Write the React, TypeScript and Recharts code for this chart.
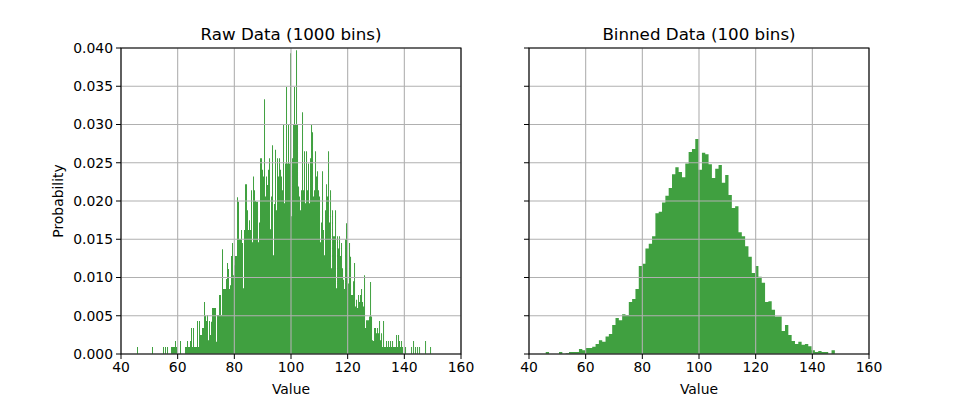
import { ComposedChart, Area, XAxis, YAxis, CartesianGrid, ReferenceArea } from 'recharts';

// 원본 데이터: 1000개 구간 중 3개씩 묶은 값 (구간 폭 약 0.118)
const RAW_START = 45.647;
const RAW_GROUP_W = 0.353;
const RAW_PROB = [
  0.0009, 0, 0, 0, 0, 0, 0, 0, 0, 0, 0, 0, 0, 0, 0, 0.0009, 0, 0, 0, 0,
  0, 0, 0, 0, 0, 0, 0.0009, 0, 0.0009, 0, 0.0009, 0, 0, 0, 0.0009, 0.0009, 0.0009, 0.0009, 0.0017, 0.0009,
  0, 0, 0, 0.0017, 0, 0, 0, 0, 0.0009, 0.0009, 0.0017, 0.0009, 0.0009, 0.0017, 0.0034, 0.0009, 0.0034, 0.0009, 0.0009, 0.0009,
  0.0043, 0.0009, 0.0043, 0.0025, 0.0025, 0.0034, 0.0034, 0.0068, 0.005, 0.0043, 0.0051, 0.0018, 0.0043, 0.0025, 0.0042, 0.006, 0.006, 0.006, 0.006, 0.0016,
  0.0051, 0.0051, 0.0077, 0.0077, 0.0051, 0.0137, 0.0085, 0.0085, 0.0085, 0.0098, 0.0119, 0.0111, 0.0085, 0.009, 0.0128, 0.0145, 0.0103, 0.0116, 0.0128, 0.0128,
  0.0205, 0.0199, 0.015, 0.015, 0.0162, 0.0145, 0.0086, 0.0162, 0.0222, 0.0222, 0.0188, 0.0162, 0.0175, 0.0162, 0.0214, 0.0146, 0.0232, 0.0214, 0.02, 0.0199,
  0.0199, 0.0146, 0.0172, 0.0256, 0.0256, 0.0241, 0.0232, 0.0333, 0.0206, 0.0232, 0.0221, 0.0241, 0.0256, 0.0163, 0.0206, 0.0273, 0.0129, 0.0196, 0.0267, 0.0188,
  0.0256, 0.0232, 0.0256, 0.0241, 0.0232, 0.0214, 0.03, 0.0197, 0.0249, 0.0349, 0.0249, 0.03, 0.0249, 0.0393, 0.018, 0.0256, 0.03, 0.0349, 0.03, 0.0397,
  0.03, 0.0219, 0.0206, 0.0188, 0.0214, 0.0316, 0.0214, 0.0265, 0.0197, 0.0265, 0.0214, 0.0249, 0.0197, 0.0256, 0.03, 0.029, 0.0206, 0.0214, 0.0265, 0.0232,
  0.0239, 0.0214, 0.0206, 0.0146, 0.0172, 0.0239, 0.0162, 0.0129, 0.0188, 0.0222, 0.0206, 0.0265, 0.0172, 0.0214, 0.0112, 0.0188, 0.0154, 0.0154, 0.0188, 0.0086,
  0.0154, 0.0138, 0.0154, 0.0128, 0.0145, 0.0112, 0.0097, 0.0085, 0.015, 0.0171, 0.0099, 0.0092, 0.0145, 0.0127, 0.0077, 0.0077, 0.0095, 0.0119, 0.0062, 0.0071,
  0.006, 0.0077, 0.0068, 0.0077, 0.0085, 0.0068, 0.0062, 0.0103, 0.0034, 0.0044, 0.0044, 0.0044, 0.0049, 0.0094, 0.0049, 0.0018, 0.0017, 0.0034, 0.0034, 0.0027,
  0.0034, 0.0027, 0.0043, 0.0018, 0.0027, 0.0009, 0.0043, 0.0009, 0.0009, 0.0017, 0.0009, 0.0017, 0.0009, 0.0017, 0.0009, 0.0017, 0.0009, 0.0009, 0.0009, 0.0025,
  0.0009, 0.0025, 0.0017, 0.0009, 0.0017, 0.0009, 0, 0, 0.0009, 0, 0, 0, 0, 0, 0.0009, 0, 0.0017, 0, 0.0009, 0,
  0.0009, 0, 0.0009, 0, 0, 0, 0, 0, 0.0017, 0, 0, 0, 0, 0.0009, 0,
];

// 100개 구간 데이터
const BIN_START = 45.9;
const BIN_W = 1.173;
const BINNED_PROB = [
  0.00026, 0, 0, 0, 0.00026, 0, 0.0001, 0.00026, 0.00026, 0.00026,
  0.00065, 0.0005, 0.0008, 0.0008, 0.00096, 0.0013, 0.0018, 0.0016, 0.0023, 0.0026,
  0.0038, 0.0047, 0.0044, 0.0052, 0.0051, 0.0068, 0.0072, 0.0085, 0.0115, 0.0118,
  0.0138, 0.0144, 0.0154, 0.0184, 0.0186, 0.0198, 0.0207, 0.0217, 0.0235, 0.0244,
  0.0238, 0.0231, 0.0249, 0.0264, 0.0268, 0.0281, 0.0241, 0.0263, 0.0261, 0.0248,
  0.023, 0.0242, 0.0247, 0.0224, 0.0234, 0.0208, 0.0191, 0.0193, 0.0159, 0.0154,
  0.0141, 0.0127, 0.0106, 0.0115, 0.0101, 0.0093, 0.0068, 0.0069, 0.0058, 0.0049,
  0.0049, 0.003, 0.0038, 0.0025, 0.0017, 0.0013, 0.0016, 0.0012, 0.0013, 0.001,
  0.0005, 0.00026, 0.0004, 0.00026, 0.00026, 0, 0.0005, 0, 0, 0,
  0, 0, 0, 0, 0, 0, 0, 0, 0, 0.0001,
];

const X_TICKS = [40, 60, 80, 100, 120, 140, 160];
const Y_TICKS = [0, 0.005, 0.01, 0.015, 0.02, 0.025, 0.03, 0.035, 0.04];

const FONT = 'DejaVu Sans';
const TICK_STYLE = { fill: '#000', fontSize: 13.9, fontFamily: FONT };

function toSteps(values: number[], start: number, width: number) {
  const pts = values.map((p, i) => ({ x: start + i * width, p }));
  pts.push({ x: start + values.length * width, p: 0 });
  return pts;
}

const rawData = toSteps(RAW_PROB, RAW_START, RAW_GROUP_W);
const binnedData = toSteps(BINNED_PROB, BIN_START, BIN_W);

function HistPanel({ data, title, left, showYLabels }: { data: { x: number; p: number }[]; title: string; left: number; showYLabels: boolean }) {
  return (
    <div style={{ position: 'absolute', left, top: 0, width: 490, height: 398 }}>
      <div
        style={{
          position: 'absolute',
          left: 121,
          width: 340,
          top: 24,
          textAlign: 'center',
          fontFamily: FONT,
          fontSize: 16.7,
          lineHeight: '20px',
          color: '#000',
        }}
      >
        {title}
      </div>
      <ComposedChart width={490} height={398} margin={{ top: 48, right: 29, bottom: 0, left: 0 }} data={data}>
        <XAxis
          type="number"
          dataKey="x"
          domain={[40, 160]}
          ticks={X_TICKS}
          interval={0}
          allowDataOverflow
          height={44}
          tickSize={5}
          tickMargin={3}
          stroke="#000"
          axisLine={false}
          tick={TICK_STYLE}
          label={{ value: 'Value', position: 'insideBottom', offset: 4, fill: '#000', fontSize: 13.9, fontFamily: FONT }}
        />
        <YAxis
          type="number"
          domain={[0, 0.04]}
          ticks={Y_TICKS}
          interval={0}
          allowDataOverflow
          width={121}
          tickSize={5}
          tickMargin={3}
          stroke="#000"
          axisLine={false}
          tick={TICK_STYLE}
          tickFormatter={(v: number) => (showYLabels ? v.toFixed(3) : '')}
          label={
            showYLabels
              ? { value: 'Probability', angle: -90, position: 'insideLeft', offset: 58, fill: '#000', fontSize: 13.9, fontFamily: FONT, style: { textAnchor: 'middle' } }
              : undefined
          }
        />
        <Area type="stepAfter" dataKey="p" fill="#40a040" fillOpacity={1} stroke="none" isAnimationActive={false} />
        <CartesianGrid stroke="#b0b0b0" strokeWidth={1.1} zIndex={150} />
        <ReferenceArea x1={40} x2={160} y1={0} y2={0.04} fill="none" stroke="#000" strokeWidth={1.1} zIndex={160} />
      </ComposedChart>
    </div>
  );
}

export default function App() {
  return (
    <div style={{ position: 'absolute', left: 0, top: 0, width: 966, height: 398, background: '#fff', overflow: 'hidden' }}>
      <HistPanel data={rawData} title="Raw Data (1000 bins)" left={0} showYLabels={true} />
      <HistPanel data={binnedData} title="Binned Data (100 bins)" left={408} showYLabels={false} />
    </div>
  );
}
